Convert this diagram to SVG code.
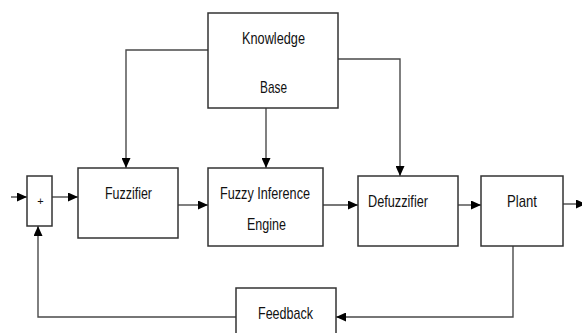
<svg xmlns="http://www.w3.org/2000/svg" width="582" height="333" viewBox="0 0 582 333">
<style>
.box{fill:#fff;stroke:#333;stroke-width:1.5}
.ln{fill:none;stroke:#4a4a4a;stroke-width:1.4}
text{font-family:"Liberation Sans",Arial,sans-serif;font-size:17px;fill:#111}
</style>
<defs>
<marker id="ah" markerWidth="10" markerHeight="9" refX="10" refY="4.5" orient="auto" markerUnits="userSpaceOnUse">
<path d="M0,0 L10,4.5 L0,9 Z" fill="#000"/>
</marker>
</defs>
<rect width="582" height="333" fill="#fff"/>
<g id="connectors">
<polyline class="ln" points="208,50 126,50 126,168" marker-end="url(#ah)"/>
<polyline class="ln" points="266,108 266,168" marker-end="url(#ah)"/>
<polyline class="ln" points="338,59 400,59 400,176" marker-end="url(#ah)"/>
<polyline class="ln" points="11,197 27,197" marker-end="url(#ah)"/>
<polyline class="ln" points="52,197 78,197" marker-end="url(#ah)"/>
<polyline class="ln" points="178,205 208,205" marker-end="url(#ah)"/>
<polyline class="ln" points="323,205 358,205" marker-end="url(#ah)"/>
<polyline class="ln" points="458,205 481,205" marker-end="url(#ah)"/>
<polyline class="ln" points="563,204 586,204" marker-end="url(#ah)"/>
<polyline class="ln" points="513,246 513,317 336,317" marker-end="url(#ah)"/>
<polyline class="ln" points="236,317 38,317 38,226" marker-end="url(#ah)"/>
</g>
<g id="knowledge-base">
<rect class="box" x="208" y="13" width="130" height="95"/>
<text x="242" y="44" textLength="63" lengthAdjust="spacingAndGlyphs">Knowledge</text>
<text x="260" y="93" textLength="27" lengthAdjust="spacingAndGlyphs">Base</text>
</g>
<g id="sum">
<rect class="box" x="27" y="176" width="25" height="50"/>
<text x="40.5" y="205" text-anchor="middle" style="font-size:11px">+</text>
</g>
<g id="fuzzifier">
<rect class="box" x="78" y="168" width="100" height="70"/>
<text x="105" y="199" textLength="47" lengthAdjust="spacingAndGlyphs">Fuzzifier</text>
</g>
<g id="fuzzy-inference-engine">
<rect class="box" x="208" y="168" width="115" height="78"/>
<text x="220" y="199" textLength="90" lengthAdjust="spacingAndGlyphs">Fuzzy Inference</text>
<text x="247" y="230" textLength="39" lengthAdjust="spacingAndGlyphs">Engine</text>
</g>
<g id="defuzzifier">
<rect class="box" x="358" y="176" width="100" height="70"/>
<text x="368" y="207" textLength="60" lengthAdjust="spacingAndGlyphs">Defuzzifier</text>
</g>
<g id="plant">
<rect class="box" x="481" y="176" width="82" height="70"/>
<text x="507" y="207" textLength="30" lengthAdjust="spacingAndGlyphs">Plant</text>
</g>
<g id="feedback">
<rect class="box" x="236" y="288" width="100" height="60"/>
<text x="258" y="319" textLength="55" lengthAdjust="spacingAndGlyphs">Feedback</text>
</g>
</svg>
